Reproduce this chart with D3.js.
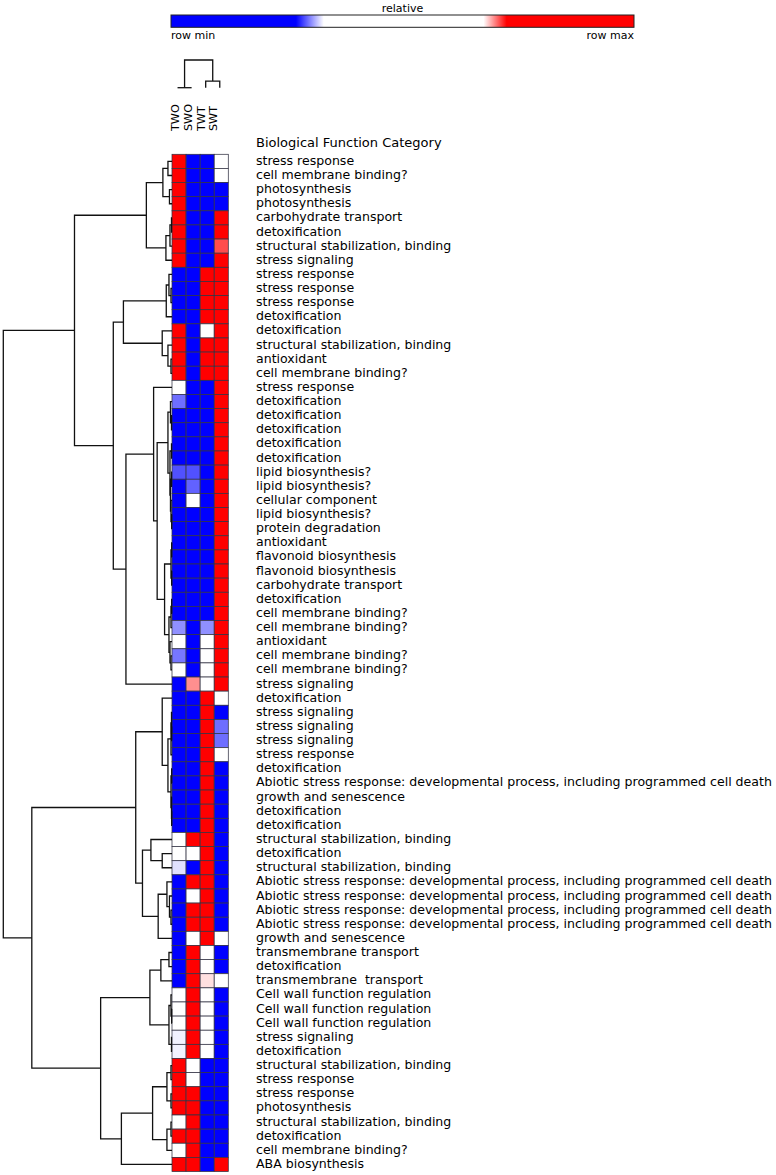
<!DOCTYPE html>
<html><head><meta charset="utf-8">
<script src="https://cdn.jsdelivr.net/npm/d3@7"></script>
<style>
html,body{margin:0;padding:0;background:#fff;}
text{font-family:"DejaVu Sans",sans-serif;fill:#000;}
</style></head>
<body><svg id="c" width="776" height="1175"></svg>
<script>
// ---------- DATA ----------
const columns = ["TWO","SWO","TWT","SWT"];
const rowLabels = [
"stress response","cell membrane binding?","photosynthesis","photosynthesis","carbohydrate transport","detoxification","structural stabilization, binding","stress signaling",
"stress response","stress response","stress response","detoxification","detoxification","structural stabilization, binding","antioxidant","cell membrane binding?",
"stress response","detoxification","detoxification","detoxification","detoxification","detoxification","lipid biosynthesis?","lipid biosynthesis?",
"cellular component","lipid biosynthesis?","protein degradation","antioxidant","flavonoid biosynthesis","flavonoid biosynthesis","carbohydrate transport","detoxification",
"cell membrane binding?","cell membrane binding?","antioxidant","cell membrane binding?","cell membrane binding?","stress signaling","detoxification","stress signaling",
"stress signaling","stress signaling","stress response","detoxification","Abiotic stress response: developmental process, including programmed cell death","growth and senescence","detoxification","detoxification",
"structural stabilization, binding","detoxification","structural stabilization, binding","Abiotic stress response: developmental process, including programmed cell death","Abiotic stress response: developmental process, including programmed cell death","Abiotic stress response: developmental process, including programmed cell death","Abiotic stress response: developmental process, including programmed cell death","growth and senescence",
"transmembrane transport","detoxification","transmembrane  transport","Cell wall function regulation","Cell wall function regulation","Cell wall function regulation","stress signaling","detoxification",
"structural stabilization, binding","stress response","stress response","photosynthesis","structural stabilization, binding","detoxification","cell membrane binding?","ABA biosynthesis"
];
// relative value per row (0 = row min, 1 = row max), columns TWO, SWO, TWT, SWT
const valTWO = [0.9,0.9,0.9,0.9,0.9,0.9,0.9,0.9, 0.1,0.1,0.1,0.1,0.9,0.9,0.9,0.9, 0.5,0.296,0.1,0.1,0.1,0.1,0.289,0.1, 0.1,0.1,0.1,0.1,0.1,0.1,0.1,0.1, 0.1,0.304,0.5,0.298,0.5,0.1,0.1,0.1, 0.1,0.1,0.1,0.1,0.1,0.1,0.1,0.1, 0.5,0.5,0.323,0.1,0.1,0.1,0.1,0.1, 0.1,0.1,0.1,0.5,0.5,0.5,0.327,0.327, 0.9,0.9,0.9,0.9,0.5,0.9,0.5,0.9];
const valSWO = [0.1,0.1,0.1,0.1,0.1,0.1,0.1,0.1, 0.1,0.1,0.1,0.1,0.1,0.1,0.1,0.1, 0.1,0.1,0.1,0.1,0.1,0.1,0.289,0.293, 0.5,0.1,0.1,0.1,0.1,0.1,0.1,0.1, 0.1,0.1,0.1,0.1,0.1,0.697,0.1,0.1, 0.1,0.1,0.1,0.1,0.1,0.1,0.1,0.1, 0.9,0.5,0.1,0.9,0.5,0.9,0.9,0.5, 0.9,0.9,0.9,0.9,0.9,0.9,0.9,0.9, 0.5,0.5,0.9,0.9,0.9,0.9,0.9,0.9];
const valTWT = [0.1,0.1,0.1,0.1,0.1,0.1,0.1,0.1, 0.9,0.9,0.9,0.9,0.5,0.9,0.9,0.9, 0.1,0.1,0.1,0.1,0.1,0.1,0.1,0.1, 0.1,0.1,0.1,0.1,0.1,0.1,0.1,0.1, 0.1,0.304,0.5,0.5,0.5,0.5,0.9,0.9, 0.9,0.9,0.9,0.9,0.9,0.9,0.9,0.9, 0.9,0.9,0.9,0.9,0.9,0.9,0.9,0.9, 0.5,0.5,0.681,0.5,0.5,0.5,0.5,0.5, 0.1,0.1,0.1,0.1,0.1,0.1,0.1,0.1];
const valSWT = [0.5,0.5,0.1,0.1,0.9,0.9,0.71,0.9, 0.9,0.9,0.9,0.9,0.9,0.9,0.9,0.9, 0.9,0.9,0.9,0.9,0.9,0.9,0.9,0.9, 0.9,0.9,0.9,0.9,0.9,0.9,0.9,0.9, 0.9,0.9,0.9,0.9,0.9,0.9,0.5,0.1, 0.296,0.296,0.5,0.1,0.1,0.1,0.1,0.1, 0.1,0.1,0.1,0.1,0.1,0.1,0.1,0.5, 0.1,0.1,0.5,0.1,0.1,0.1,0.1,0.1, 0.1,0.1,0.1,0.1,0.1,0.1,0.1,0.9];
// row dendrogram: [distance, left, right]; leaves = row index
const rowTree = [1.0,
  [0.578,
    [0.152,
      [0.054,[0.024,0,1],[0.015,2,3]],
      [0.036,[0.012,[0.003,4,5],6],7]],
    [0.348,
      [0.288,
        [0.034,[0.018,8,[0.006,9,10]],11],
        [0.058,12,[0.024,13,[0.006,14,15]]]],
      [0.273,
        [0.109,16,
          [0.088,
            [0.024,[0.009,17,[0.003,18,19]],[0.012,[0.003,20,21],[0.009,[0.003,22,23],[0.006,24,[0.002,25,26]]]]],
            [0.044,[0.006,[0.002,27,28],[0.002,29,30]],[0.018,[0.006,[0.002,31,32],33],[0.012,34,[0.006,35,36]]]]]],
        37]]],
  [0.831,
    [0.215,
      [0.058,38,[0.024,[0.006,[0.003,39,[0.002,40,41]],42],[0.006,[0.002,43,44],[0.003,45,[0.002,46,47]]]]],
      [0.175,
        [0.125,48,[0.058,49,50]],
        [0.082,[0.030,51,[0.015,52,[0.006,53,54]]],55]]],
    [0.423,
      [0.131,
        [0.066,[0.018,56,57],58],
        [0.018,[0.006,59,[0.002,60,61]],[0.003,62,63]]],
      [0.300,
        [0.115,[0.030,[0.006,64,65],[0.006,66,67]],[0.030,[0.006,68,69],70]],
        71]]]];
// column dendrogram
const colTree = [1.0,[0.0,0,1],[0.24,2,3]];
const legendTitle = "relative", legendMin = "row min", legendMax = "row max";
const headerText = "Biological Function Category";

// ---------- CHART ----------
const svg = d3.select("#c");
const nRows = rowLabels.length;
const y = d3.scaleBand().domain(d3.range(nRows)).range([154.3, 1171.5]);
const x = d3.scaleBand().domain(d3.range(columns.length)).range([172, 228.3]);
const colorPos = d3.scaleLinear()
  .domain([0, 0.27, 0.33, 0.675, 0.725, 1])
  .range(["#0000ff","#0000ff","#ffffff","#ffffff","#ff0000","#ff0000"])
  .clamp(true);

const matrix = [valTWO, valSWO, valTWT, valSWT];
const cells = [];
for (let r = 0; r < nRows; r++) for (let c = 0; c < columns.length; c++) cells.push({r, c, v: matrix[c][r]});

svg.append("g").selectAll("rect").data(cells).join("rect")
  .attr("x", d => x(d.c)).attr("y", d => y(d.r))
  .attr("width", x.bandwidth()).attr("height", y.bandwidth())
  .attr("fill", d => colorPos(d.v))
  .attr("stroke", "#333344").attr("stroke-width", 0.75);

// row labels
svg.append("g").selectAll("text").data(rowLabels).join("text")
  .attr("x", 256).attr("y", (d,i) => y(i) + y.bandwidth()/2 - 1)
  .attr("dominant-baseline", "central")
  .style("white-space", "pre")
  .attr("font-size", 12.55)
  .text(d => d);

svg.append("text").attr("x", 256).attr("y", 142).attr("dominant-baseline","central")
  .attr("font-size", 13).text(headerText);

// row dendrogram
const dx = d3.scaleLinear().domain([0, 1]).range([172, 3.3]);
const gR = svg.append("g").attr("fill","none").attr("stroke","#111").attr("stroke-width",1.3);
function layoutRow(node) {
  if (typeof node === "number") return {pos: y(node) + y.bandwidth()/2, h: 0};
  const a = layoutRow(node[1]), b = layoutRow(node[2]);
  const h = node[0], xn = dx(h);
  gR.append("path").attr("d",
    `M${dx(a.h)},${a.pos}H${xn}V${b.pos}H${dx(b.h)}`);
  return {pos: (a.pos + b.pos) / 2, h};
}
layoutRow(rowTree);

// column dendrogram
const colCenter = c => x(c) + x.bandwidth()/2 - 1.5;
const dy = d3.scaleLinear().domain([0, 1]).range([87.7, 60]);
const gC = svg.append("g").attr("fill","none").attr("stroke","#111").attr("stroke-width",1.3);
function layoutCol(node) {
  if (typeof node === "number") return {pos: colCenter(node), h: 0};
  const a = layoutCol(node[1]), b = layoutCol(node[2]);
  const h = node[0], yn = dy(h);
  gC.append("path").attr("d", `M${a.pos},${dy(a.h)}V${yn}H${b.pos}V${dy(b.h)}`);
  return {pos: (a.pos + b.pos) / 2, h};
}
layoutCol(colTree);

// column labels
const lx = d3.scalePoint().domain(columns).range([175.5, 213.8]);
svg.append("g").selectAll("text").data(columns).join("text")
  .attr("transform", d => `translate(${lx(d)},131) rotate(-90)`)
  .attr("dominant-baseline","central")
  .attr("font-size", 11.2).text(d => d);

// legend
const defs = svg.append("defs");
const grad = defs.append("linearGradient").attr("id","lg").attr("x1","0%").attr("x2","100%");
colorPos.domain().forEach((s,i) => grad.append("stop").attr("offset", s*100 + "%").attr("stop-color", colorPos.range()[i]));
const lgx = d3.scaleLinear().domain([0,1]).range([171, 634]);
svg.append("rect").attr("x", lgx(0)).attr("y", 15).attr("width", lgx(1)-lgx(0)).attr("height", 12.3)
  .attr("fill","url(#lg)").attr("stroke","#222").attr("stroke-width",1);
svg.append("text").attr("x", (lgx(0)+lgx(1))/2).attr("y", 8).attr("text-anchor","middle")
  .attr("dominant-baseline","central").attr("font-size", 11).text(legendTitle);
svg.append("text").attr("x", lgx(0)).attr("y", 35).attr("dominant-baseline","central")
  .attr("font-size", 11).text(legendMin);
svg.append("text").attr("x", lgx(1)).attr("y", 35).attr("text-anchor","end").attr("dominant-baseline","central")
  .attr("font-size", 11).text(legendMax);
</script></body></html>
